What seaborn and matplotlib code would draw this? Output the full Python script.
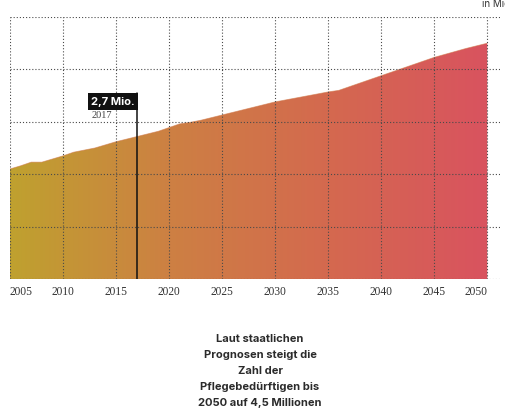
import numpy as np
import pandas as pd
import matplotlib.pyplot as plt
import seaborn as sns
from matplotlib.colors import LinearSegmentedColormap

sns.set_style("white")

# Pflegebeduerftige in Mio. (2005-2023 Statistik, danach Prognose)
years = [2005, 2006, 2007, 2008, 2009, 2010, 2011, 2012, 2013, 2014, 2015,
         2016, 2017, 2018, 2019, 2020, 2021, 2022, 2023, 2025, 2030, 2035,
         2036, 2040, 2042, 2045, 2048, 2050]
values = [2.10, 2.16, 2.23, 2.23, 2.29, 2.35, 2.42, 2.46, 2.50, 2.56, 2.62,
          2.67, 2.72, 2.77, 2.82, 2.89, 2.96, 2.99, 3.03, 3.13, 3.38, 3.57,
          3.60, 3.88, 4.02, 4.23, 4.40, 4.50]
tick_years = [2005, 2010, 2015, 2020, 2025, 2030, 2035, 2040, 2045, 2050]
y_grid = [0, 1, 2, 3, 4, 5]
marker_year = 2017
marker_label = "2,7 Mio."
unit_label = "in Mio."
caption = ("Laut staatlichen\nPrognosen steigt die\nZahl der\n"
           "Pflegebedürftigen bis\n2050 auf 4,5 Millionen")

df = pd.DataFrame({"Jahr": years, "Mio": values})

fig = plt.figure(figsize=(5.05, 4.14), dpi=100)
ax = fig.add_axes([10 / 505, 1 - 280 / 414, 490 / 505, 262 / 414])
ax.set_xlim(2005, 2051.2)
ax.set_ylim(0, 5)

# area with horizontal colour gradient
poly = ax.fill_between(df["Jahr"], 0, df["Mio"], color="none", lw=0)
cmap = LinearSegmentedColormap.from_list(
    "pflege", ["#bfa12f", "#cd8043", "#d4694f", "#d9535f"])
grad = ax.imshow(np.linspace(0, 1, 256).reshape(1, -1), cmap=cmap,
                 aspect="auto", extent=[2005, 2050, 0, 5], zorder=1)
grad.set_clip_path(poly.get_paths()[0], transform=ax.transData)
sns.lineplot(data=df, x="Jahr", y="Mio", ax=ax, color="#d0784a",
             lw=0.6, alpha=0.6, zorder=1.5)

# dotted grid on top of the area
dots = (0, (1, 1.8))
for y in y_grid:
    ax.axhline(y, color="#4a4a4a", lw=0.8, ls=dots, zorder=2)
for x in tick_years:
    ax.plot([x, x], [0, 5], color="#4a4a4a", lw=0.8, ls=dots, zorder=2)

# marker for 2017
ax.plot([marker_year, marker_year], [0, 3.55], color="#111111", lw=1.1, zorder=3)
ax.text(marker_year - 0.25, 3.39, marker_label, ha="right", va="center",
        fontsize=8, color="white", fontweight="bold", family="Inter",
        bbox=dict(boxstyle="square,pad=0.3", fc="#111111", ec="none"),
        zorder=4)
ax.text(2012.7, 3.14, str(marker_year), ha="left", va="center", fontsize=7.5,
        color="#444444", family="Liberation Serif")

for side in ax.spines.values():
    side.set_visible(False)
ax.set_xticks([])
ax.set_yticks([])
ax.set_xlabel("")
ax.set_ylabel("")

# x labels, first and last pulled inward
for x in tick_years:
    ha = "center"
    if x == tick_years[0]:
        ha = "left"
    elif x == tick_years[-1]:
        ha = "right"
    ax.text(x, -0.22, str(x), ha=ha, va="center", fontsize=8.3,
            color="#333333", family="Liberation Serif")

fig.text(482 / 505, 1 - 4 / 414, unit_label, ha="left", va="center",
         fontsize=7, color="#333333", family="Inter")

fig.text(260 / 505, 1 - 371 / 414, caption, ha="center", va="center",
         fontsize=8, fontweight="bold", color="#2b2b2b", family="Inter",
         linespacing=1.77)

fig.savefig("out.png", dpi=100)
